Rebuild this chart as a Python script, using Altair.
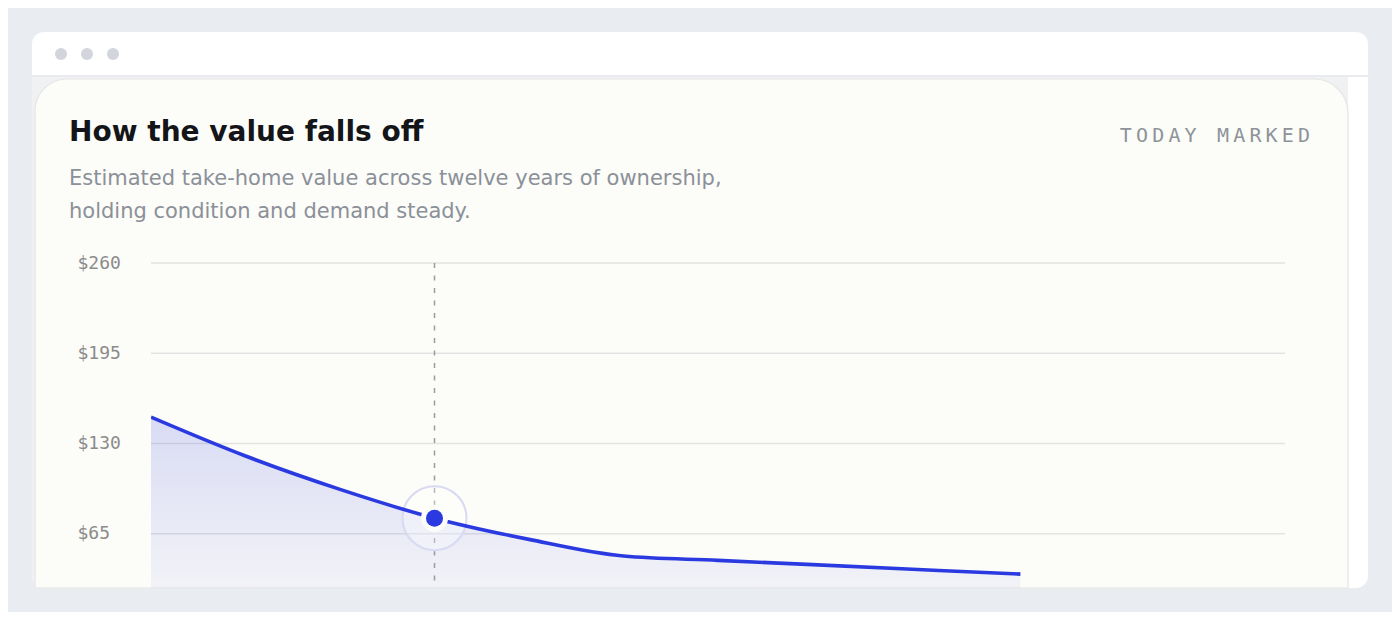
import altair as alt
import pandas as pd

# ---- data ----
years = [0, 1, 2, 3, 4, 5, 6, 7, 8, 9, 9.2]
values = [149, 121, 97, 76.3, 61, 49, 45.9, 42.8, 39.7, 36.6, 36.0]
today_year = 3
y_ticks = [65, 130, 195, 260]
x_domain = [0, 12]
y_domain = [26, 260]  # the window frame cuts the plot just above $26

title_text = "How the value falls off"
subtitle_lines = [
    "Estimated take-home value across twelve years of ownership,",
    "holding condition and demand steady.",
]
badge_text = "TODAY MARKED"

df = pd.DataFrame({"year": years, "value": values})
today_df = df[df["year"] == today_year].reset_index(drop=True)
grid_df = pd.DataFrame({"tick": y_ticks})

BLUE = "#2b3ae0"
CARD = "#fcfcf8"
PAGE = "#e9ecf1"

x_scale = alt.Scale(domain=x_domain)
y_scale = alt.Scale(domain=y_domain)
y_axis = alt.Axis(
    values=y_ticks, format="$d", grid=False, domain=False, ticks=False,
    labelAlign="left", labelBaseline="middle", labelPadding=74,
    labelFont="DejaVu Sans Mono", labelFontSize=18, labelColor="#8b8b8b",
    title=None, zindex=1,
)
X = lambda f: alt.X(f, scale=x_scale, axis=None)
Y = lambda f: alt.Y(f, scale=y_scale, axis=y_axis)

one = alt.Data(values=[{"k": 1}])


def box(x, x2, y, y2, **kw):
    return alt.Chart(one).mark_rect(**kw).encode(
        x=alt.value(x), x2=alt.value(x2), y=alt.value(y), y2=alt.value(y2)
    )


# ---- window chrome (decoration) ----
window = box(-119, 1217, -231, 325, color="#ffffff", cornerRadius=12)
content_bg = box(-119, 1197, -186, 325, color="#f0f1f3", cornerRadiusBottomLeft=12)
separator = alt.Chart(one).mark_rule(color="#e3e5e9", strokeWidth=1.5).encode(
    x=alt.value(-119), x2=alt.value(1217), y=alt.value(-187)
)
dots = [
    alt.Chart(one).mark_circle(size=144, color="#d3d5dc", opacity=1).encode(
        x=alt.value(px), y=alt.value(-209)
    )
    for px in (-90, -64, -38)
]
card = box(-116, 1197, -184, 325, fill=CARD, stroke="#e5e5e5", strokeWidth=1.2,
           cornerRadiusTopLeft=32, cornerRadiusTopRight=34)

# ---- texts ----
title = alt.Chart(one).mark_text(
    text=title_text, font="DejaVu Sans", fontSize=28, fontWeight="bold",
    color="#141519", align="left", baseline="alphabetic",
).encode(x=alt.value(-82), y=alt.value(-122))
subtitle = alt.Chart(one).mark_text(
    text=subtitle_lines, font="DejaVu Sans", fontSize=21, lineHeight=33,
    color="#8b9099", align="left", baseline="alphabetic",
).encode(x=alt.value(-82), y=alt.value(-78))

# letter-spaced badge: one glyph per text mark (Vega has no letterSpacing)
BADGE_RIGHT, BADGE_PITCH = 1153, 16.2
badge = [
    alt.Chart(one).mark_text(
        text=ch, font="DejaVu Sans Mono", fontSize=20,
        color="#8e939a", align="center", baseline="alphabetic",
    ).encode(
        x=alt.value(BADGE_RIGHT - (len(badge_text) - 1 - i) * BADGE_PITCH),
        y=alt.value(-121),
    )
    for i, ch in enumerate(badge_text) if ch != " "
]

# ---- data layers ----
grid = alt.Chart(grid_df).mark_rule(color="#e3e3e3", strokeWidth=1.5).encode(y=Y("tick:Q"))

area = alt.Chart(df).mark_area(
    interpolate="monotone", clip=True,
    color=alt.Gradient(
        gradient="linear", x1=1, x2=1, y1=0, y2=1,
        stops=[
            alt.GradientStop(color="rgba(43,58,224,0.17)", offset=0),
            alt.GradientStop(color="rgba(43,58,224,0.025)", offset=1),
        ],
    ),
).encode(x=X("year:Q"), y=Y("value:Q"))

line = alt.Chart(df).mark_line(
    interpolate="monotone", color=BLUE, strokeWidth=3.6, clip=True
).encode(x=X("year:Q"), y=Y("value:Q"))

today_rule = alt.Chart(today_df).mark_rule(
    color="#9b9b9b", strokeWidth=1.5, strokeDash=[5, 7.5]
).encode(x=X("year:Q"))

halo = alt.Chart(today_df).mark_circle(
    size=4096, fill="#ffffff", fillOpacity=0.3, stroke="#d8daf2", strokeWidth=2, opacity=1
).encode(x=X("year:Q"), y=Y("value:Q"))
gap = alt.Chart(today_df).mark_circle(size=729, color=CARD, opacity=1).encode(
    x=X("year:Q"), y=Y("value:Q")
)
dot = alt.Chart(today_df).mark_circle(size=289, color=BLUE, opacity=1).encode(
    x=X("year:Q"), y=Y("value:Q")
)

chart = alt.layer(
    window, content_bg, separator, *dots, card,
    title, subtitle, *badge,
    grid, area, today_rule, halo, line, gap, dot,
).properties(
    width=1134, height=325,
    autosize=alt.AutoSizeParams(type="none"),
    padding={"left": 143, "top": 255, "right": 107, "bottom": 24},
    background=PAGE,
).configure_view(strokeWidth=0)

chart.save("out.html", embed_options={"renderer": "svg", "actions": False})
